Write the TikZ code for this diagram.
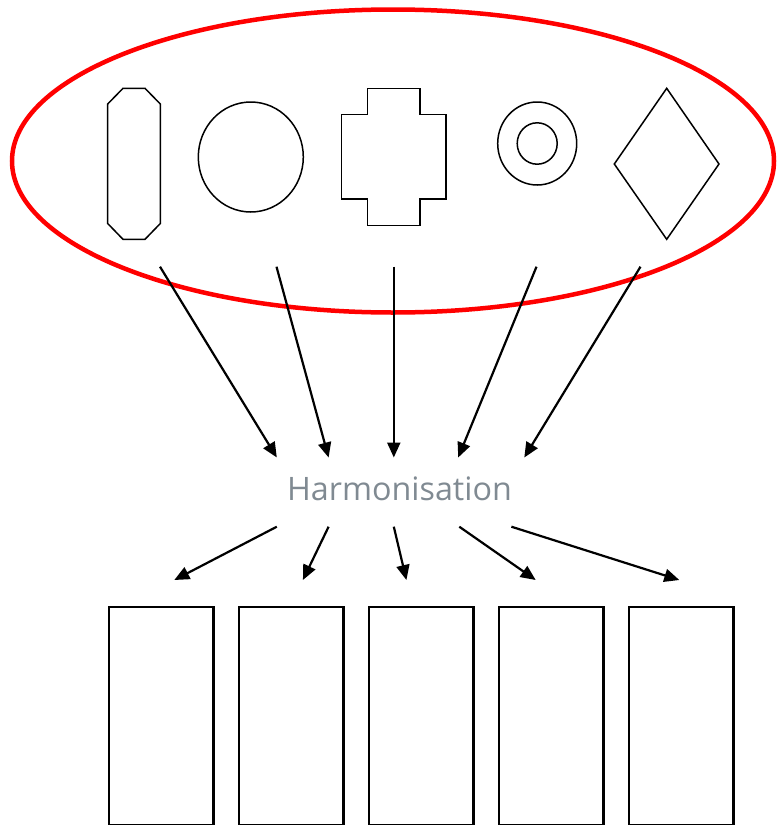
\documentclass[tikz,border=0pt]{standalone}
\usepackage{fontspec}
\setmainfont{Open Sans}
\usetikzlibrary{arrows.meta}
\definecolor{harmgrey}{RGB}{128,138,146}
\definecolor{ovalred}{RGB}{255,0,0}
\tikzset{
  shapeline/.style={draw=black, line width=1.5pt},
  flow/.style={draw=black, line width=2.2pt, -{Triangle[length=15pt,width=13pt]}},
  outbox/.style={draw=black, line width=2.2pt, minimum width=104.6pt, minimum height=218.6pt, inner sep=0pt, anchor=north west},
}
\begin{document}
\begin{tikzpicture}[x=1pt,y=-1pt]
\useasboundingbox (0,0) rectangle (777,825);
% red oval
\draw[ovalred, line width=4.5pt] (393,161) ellipse [x radius=381, y radius=151.5];
% octagon
\draw[shapeline] (123,88.3) -- (145,88.3) -- (160.3,104) -- (160.3,223.5) -- (145,239.3) -- (123,239.3) -- (107.7,223.5) -- (107.7,104) -- cycle;
% circle
\draw[shapeline] (250.8,157) ellipse [x radius=52.5, y radius=55];
% cross
\draw[shapeline] (367.7,88.3) -- (420,88.3) -- (420,114.3) -- (446,114.3) -- (446,199) -- (420,199) -- (420,225.3) -- (367.7,225.3) -- (367.7,199) -- (341.7,199) -- (341.7,114.3) -- (367.7,114.3) -- cycle;
% ring
\draw[shapeline] (537.2,143.5) ellipse [x radius=39.5, y radius=41.5];
\draw[shapeline] (537.2,143.5) ellipse [x radius=20, y radius=20.7];
% diamond
\draw[shapeline] (666.7,88.3) -- (719,164) -- (666.7,239.3) -- (614.3,164) -- cycle;
% label
\node[text=harmgrey, font=\fontsize{32.3}{36}\selectfont, anchor=base, inner sep=0pt] (harm) at (399.5,500) {Harmonisation};
% arrow coordinates
\coordinate (s1) at (160,266.7);
\coordinate (s2) at (276.5,266.7);
\coordinate (s3) at (393.8,266.7);
\coordinate (s4) at (536.5,266.7);
\coordinate (s5) at (640.5,266.7);
\coordinate (t1) at (276.8,457.5);
\coordinate (t2) at (328.6,457.5);
\coordinate (t3) at (393.8,457.5);
\coordinate (t4) at (458.2,457.5);
\coordinate (t5) at (524.3,457.5);
\coordinate (u1) at (276.8,526.7);
\coordinate (u2) at (328.6,526.7);
\coordinate (u3) at (393.8,526.7);
\coordinate (u4) at (459.3,526.7);
\coordinate (u5) at (511.4,526.7);
\coordinate (v1) at (174.3,580);
\coordinate (v2) at (302.9,580);
\coordinate (v3) at (406.4,580);
\coordinate (v4) at (535.7,580);
\coordinate (v5) at (679.3,580);
\foreach \i in {1,...,5} {
  \draw[flow] (s\i) -- (t\i);
  \draw[flow] (u\i) -- (v\i);
}
% output boxes
\node[outbox] (b1) at (107.7,605.7) {};
\node[outbox] (b2) at (237.7,605.7) {};
\node[outbox] (b3) at (367.7,605.7) {};
\node[outbox] (b4) at (497.7,605.7) {};
\node[outbox] (b5) at (627.7,605.7) {};
\end{tikzpicture}
\end{document}
